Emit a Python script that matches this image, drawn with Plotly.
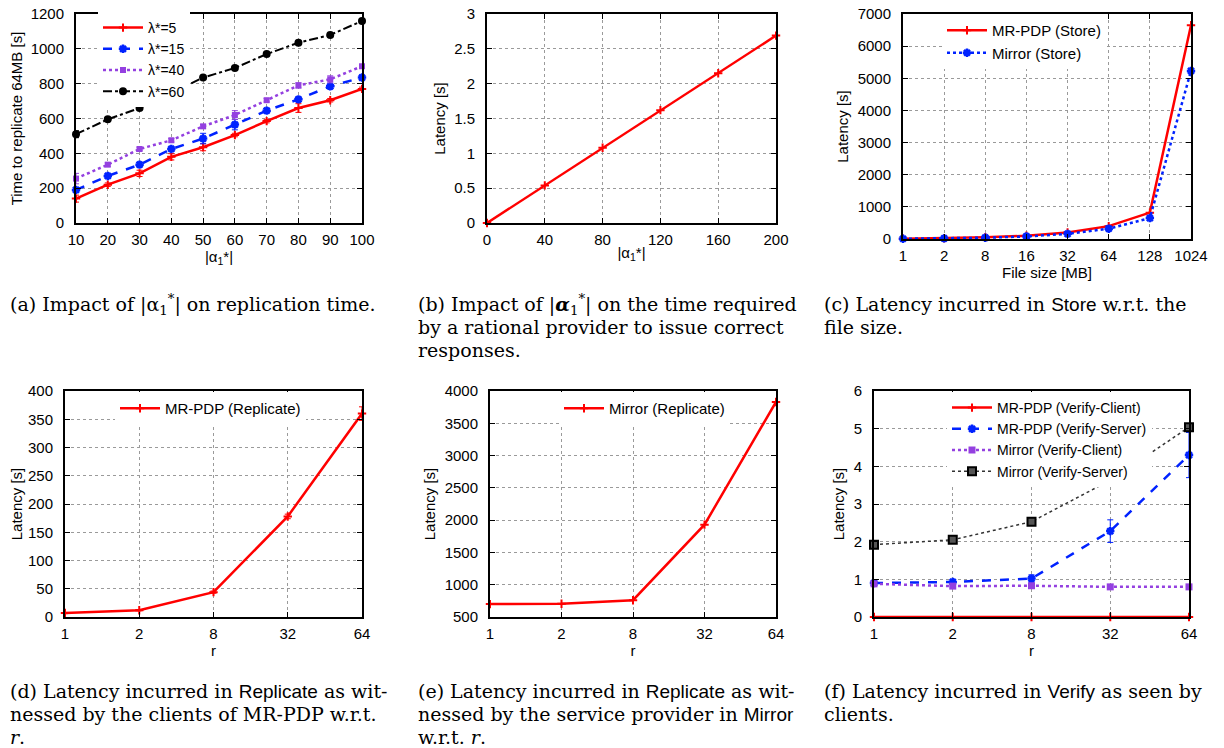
import plotly.graph_objects as go

# The page body has an 8px margin, so the figure is drawn 8px in from the
# top-left corner; all reference pixel positions below are converted for that.
REF_W, REF_H = 1224, 748
OFF = 8
W, H = REF_W - OFF, REF_H - OFF

# ---------------- data ----------------
# (a)
a_x = [10, 20, 30, 40, 50, 60, 70, 80, 90, 100]
a_l5 = [140, 220, 285, 380, 435, 505, 585, 660, 705, 770]
a_l5_err = [20, 10, 18, 18, 20, 10, 10, 25, 10, 10]
a_l15 = [190, 270, 335, 425, 485, 565, 645, 710, 785, 835]
a_l15_err = [10, 15, 10, 10, 30, 30, 10, 10, 10, 15]
a_l40 = [255, 335, 425, 475, 555, 620, 705, 790, 825, 900]
a_l40_err = [30, 10, 10, 10, 10, 25, 10, 15, 20, 10]
a_l60 = [510, 595, 660, 745, 835, 890, 970, 1035, 1080, 1160]
a_l60_err = [20, 10, 10, 30, 10, 10, 10, 10, 10, 10]
# (b)
b_x = [0, 40, 80, 120, 160, 200]
b_y = [0.0, 0.54, 1.08, 1.62, 2.15, 2.69]
# (c)
c_cat = ["1", "2", "8", "16", "32", "64", "128", "1024"]
c_mr = [10, 25, 55, 100, 200, 400, 820, 6650]
c_mirror = [8, 20, 40, 80, 160, 320, 650, 5230]
# (d), (e), (f)
r_cat = ["1", "2", "8", "32", "64"]
d_y = [7, 12, 44, 178, 360]
d_err = [1, 1, 2, 4, 12]
e_y = [700, 705, 760, 1930, 3830]
f_mr_client = [0, 0, 0, 0, 0]
f_mr_server = [0.9, 0.93, 1.02, 2.28, 4.3]
f_mr_server_err = [0.08, 0.05, 0.1, 0.3, 0.6]
f_mi_client = [0.88, 0.82, 0.83, 0.80, 0.80]
f_mi_server = [1.92, 2.05, 2.53, 3.63, 5.04]

RED = "#ff0000"
BLUE = "#0022ff"
PURPLE = "#9440e0"
BLACK = "#000000"

fig = go.Figure()


def px_x(v):
    return (v - OFF) / W


def px_y(v):
    return 1 - (v - OFF) / H


# plot areas (reference pixels): left, right, top, bottom
areas = {
    1: (76, 362, 14, 223),
    2: (487, 776, 14, 223),
    3: (903, 1191, 14, 239),
    4: (65, 362, 391, 617),
    5: (490, 776, 391, 617),
    6: (874, 1189, 391, 617),
}

SANS = "Liberation Sans, Arial, sans-serif"
SERIF = "DejaVu Serif, serif"


def add(n, **kw):
    sfx = "" if n == 1 else str(n)
    kw.setdefault("cliponaxis", False)
    fig.add_trace(go.Scatter(xaxis="x" + sfx, yaxis="y" + sfx, **kw))


def err(arr, color):
    return dict(type="data", array=arr, color=color, thickness=1, width=3)


plus = dict(symbol="cross-thin-open", size=6, line=dict(width=2))
star = dict(symbol="asterisk-open", size=7, line=dict(width=2.5))

# (a)
add(1, x=a_x, y=a_l5, name="λ*=5", mode="lines+markers", legend="legend",
    line=dict(color=RED, width=2.5), marker=dict(color=RED, **plus),
    error_y=err(a_l5_err, RED))
add(1, x=a_x, y=a_l15, name="λ*=15", mode="lines+markers", legend="legend",
    line=dict(color=BLUE, width=2.5, dash="dash"),
    marker=dict(color=BLUE, **star),
    error_y=err(a_l15_err, BLUE))
add(1, x=a_x, y=a_l40, name="λ*=40", mode="lines+markers", legend="legend",
    line=dict(color=PURPLE, width=2.5, dash="dot"),
    marker=dict(color=PURPLE, symbol="square", size=6),
    error_y=err(a_l40_err, PURPLE))
add(1, x=a_x, y=a_l60, name="λ*=60", mode="lines+markers", legend="legend",
    line=dict(color=BLACK, width=2, dash="dashdot"),
    marker=dict(color=BLACK, symbol="circle", size=8),
    error_y=err(a_l60_err, BLACK))

# (b)
add(2, x=b_x, y=b_y, name="b", mode="lines+markers", showlegend=False,
    line=dict(color=RED, width=2.5), marker=dict(color=RED, **plus))

# (c)
add(3, x=c_cat, y=c_mr, name="MR-PDP (Store)", mode="lines+markers", legend="legend3",
    line=dict(color=RED, width=2.5), marker=dict(color=RED, **plus))
add(3, x=c_cat, y=c_mirror, name="Mirror (Store)", mode="lines+markers", legend="legend3",
    line=dict(color=BLUE, width=2.5, dash="dot"),
    marker=dict(color=BLUE, **star))

# (d)
add(4, x=r_cat, y=d_y, name="MR-PDP (Replicate)", mode="lines+markers", legend="legend4",
    line=dict(color=RED, width=2.5), marker=dict(color=RED, **plus),
    error_y=err(d_err, RED))

# (e)
add(5, x=r_cat, y=e_y, name="Mirror (Replicate)", mode="lines+markers", legend="legend5",
    line=dict(color=RED, width=2.5), marker=dict(color=RED, **plus))

# (f)
add(6, x=r_cat, y=f_mr_client, name="MR-PDP (Verify-Client)", mode="lines+markers",
    legend="legend6", line=dict(color=RED, width=2.5), marker=dict(color=RED, **plus))
add(6, x=r_cat, y=f_mr_server, name="MR-PDP (Verify-Server)", mode="lines+markers",
    legend="legend6", line=dict(color=BLUE, width=2.5, dash="dash"),
    marker=dict(color=BLUE, **star),
    error_y=err(f_mr_server_err, BLUE))
add(6, x=r_cat, y=f_mi_client, name="Mirror (Verify-Client)", mode="lines+markers",
    legend="legend6", line=dict(color=PURPLE, width=2.5, dash="dot"),
    marker=dict(color=PURPLE, symbol="square", size=7))
add(6, x=r_cat, y=f_mi_server, name="Mirror (Verify-Server)", mode="lines+markers",
    legend="legend6", line=dict(color="#333333", width=1.5, dash="dot"),
    marker=dict(color="#555555", symbol="square", size=8, line=dict(color=BLACK, width=2)))

# ---------------- axes ----------------
def axis_common():
    return dict(showline=True, linecolor="black", linewidth=2, mirror="ticks",
                ticks="inside", ticklen=5, tickwidth=1, tickcolor="black",
                showgrid=True, gridcolor="#9a9a9a", griddash="dot", gridwidth=1,
                zeroline=False, automargin=False, ticklabeloverflow="allow",
                tickfont=dict(family=SANS, size=15, color="black"),
                title_font=dict(family=SANS, size=15, color="black"))


ALPHA = "|α<sub>1</sub>*|"
specs = {
    1: dict(x=dict(range=[10, 100], tickvals=a_x, title=ALPHA),
            y=dict(range=[0, 1200], dtick=200, title="Time to replicate 64MB [s]")),
    2: dict(x=dict(range=[0, 200], tickvals=b_x, title=ALPHA),
            y=dict(range=[0, 3], dtick=0.5, title="Latency [s]")),
    3: dict(x=dict(type="category", range=[0, len(c_cat) - 1], title="File size [MB]"),
            y=dict(range=[0, 7000], dtick=1000, title="Latency [s]")),
    4: dict(x=dict(type="category", range=[0, len(r_cat) - 1], title="r"),
            y=dict(range=[0, 400], dtick=50, title="Latency [s]")),
    5: dict(x=dict(type="category", range=[0, len(r_cat) - 1], title="r"),
            y=dict(range=[500, 4000], dtick=500, title="Latency [s]")),
    6: dict(x=dict(type="category", range=[0, len(r_cat) - 1], title="r"),
            y=dict(range=[0, 6], dtick=1, title="Latency [s]")),
}

layout = {}
for n, (l, r, t, b) in areas.items():
    sfx = "" if n == 1 else str(n)
    xs = specs[n]["x"].copy()
    ys = specs[n]["y"].copy()
    xt = xs.pop("title")
    yt = ys.pop("title")
    xa = axis_common()
    xa.update(xs)
    xa.update(domain=[px_x(l), px_x(r)], anchor="y" + sfx, ticklabelstandoff=2,
              title=dict(text=xt, standoff=0))
    ya = axis_common()
    ya.update(ys)
    ya.update(domain=[px_y(b), px_y(t)], anchor="x" + sfx, ticklabelstandoff=7,
              title=dict(text=yt, standoff=5))
    layout["xaxis" + sfx] = xa
    layout["yaxis" + sfx] = ya


def leg(xr, yt, size):
    return dict(x=px_x(xr), y=px_y(yt), xanchor="right", yanchor="top",
                xref="paper", yref="paper", bgcolor="white", borderwidth=0,
                font=dict(family=SANS, size=size, color="black"),
                tracegroupgap=0, itemwidth=40)


layout["legend"] = leg(190, 12, 14)
layout["legend3"] = leg(1106, 14, 15)
layout["legend4"] = leg(306, 392, 15)
layout["legend5"] = leg(730, 392, 15)
layout["legend6"] = leg(1152, 392, 14)

fig.update_layout(width=W, height=H, margin=dict(l=0, r=0, t=0, b=0, pad=0),
                  plot_bgcolor="white", paper_bgcolor="white",
                  showlegend=True, **layout)

# ---------------- captions ----------------
def sans(s):
    return f'<span style="font-family:Liberation Sans">{s}</span>'


AL = "|α<sub>1</sub><sup>*</sup>|"
ALB = "|<b><i>α</i></b><sub>1</sub><sup>*</sup>|"
captions = [
    (8, 304, f"(a) Impact of {AL} on replication time."),
    (416, 304, f"(b) Impact of {ALB} on the time required"),
    (416, 327, "by a rational provider to issue correct"),
    (416, 350, "responses."),
    (822, 304, f"(c) Latency incurred in {sans('Store')} w.r.t. the"),
    (822, 327, "file size."),
    (8, 691, f"(d) Latency incurred in {sans('Replicate')} as wit-"),
    (8, 714, "nessed by the clients of MR-PDP w.r.t."),
    (8, 737, "<i>r</i>."),
    (416, 691, f"(e) Latency incurred in {sans('Replicate')} as wit-"),
    (416, 714, f"nessed by the service provider in {sans('Mirror')}"),
    (416, 737, "w.r.t. <i>r</i>."),
    (822, 691, f"(f) Latency incurred in {sans('Verify')} as seen by"),
    (822, 714, "clients."),
]
for x, y, txt in captions:
    fig.add_annotation(x=px_x(x), y=px_y(y), xref="paper", yref="paper",
                       xanchor="left", yanchor="middle", showarrow=False,
                       text=txt, font=dict(family=SERIF, size=19, color="black"))

fig.write_html("out.html")
